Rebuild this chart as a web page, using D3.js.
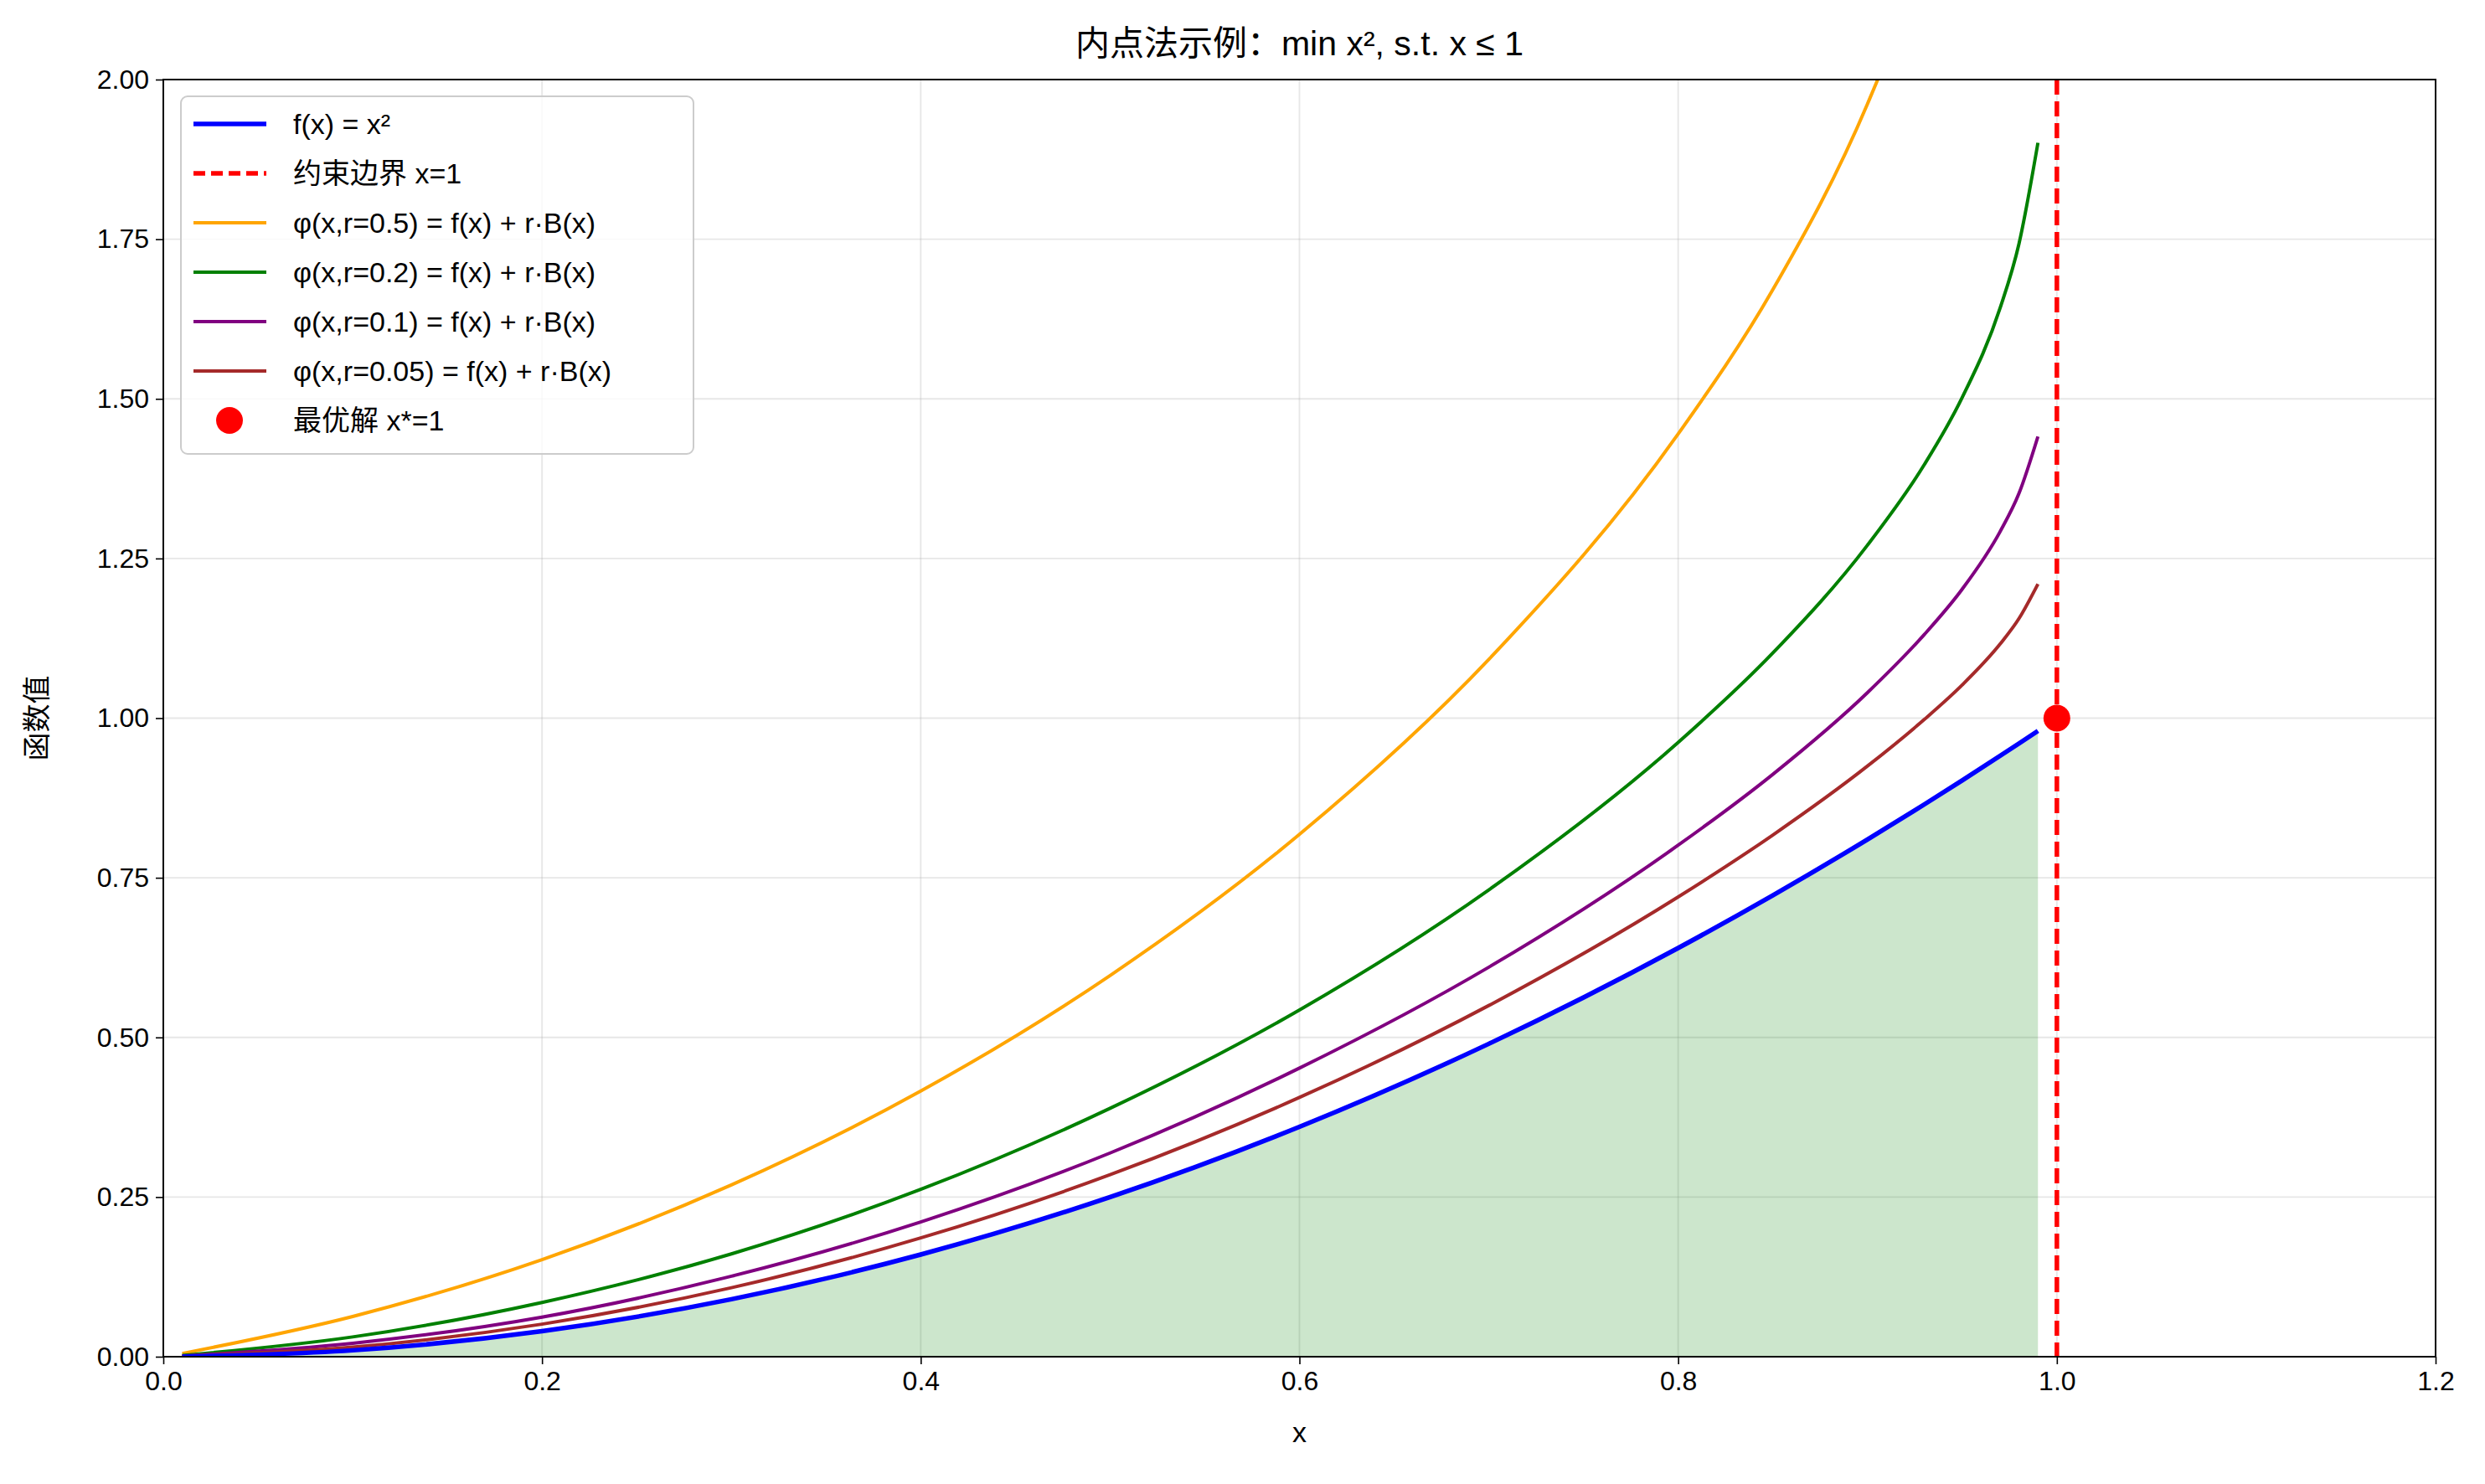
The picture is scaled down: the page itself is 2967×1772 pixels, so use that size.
<!DOCTYPE html>
<html><head><meta charset="utf-8">
<script src="https://cdn.jsdelivr.net/npm/d3@7"></script>
<style>body{margin:0;background:#fff}text{font-family:"Liberation Sans","Noto Sans CJK SC",sans-serif}</style>
</head><body><svg id="c" width="2967" height="1772"></svg>
<script>
// values
let xs = [0.01,0.1,0.2,0.3,0.4,0.5,0.6,0.7,0.8,0.85,0.9,0.93,0.95,0.97,0.98,0.99];
let fx = [0.0001,0.01,0.04,0.09,0.16,0.25,0.36,0.49,0.64,0.7225,0.81,0.8649,0.9025,0.9409,0.9604,0.9801];
let phi05 = [0.005,0.063,0.152,0.269,0.416,0.597,0.818,1.092,1.445,1.671,1.962,2.194,2.4,2.7,2.92,3.28];
let phi02 = [0.002,0.031,0.085,0.161,0.262,0.389,0.543,0.731,0.962,1.102,1.271,1.397,1.502,1.642,1.743,1.901];
let phi01 = [0.001,0.021,0.062,0.126,0.211,0.319,0.452,0.610,0.801,0.912,1.040,1.131,1.202,1.292,1.352,1.441];
let phi005 = [0.001,0.015,0.051,0.108,0.186,0.285,0.406,0.550,0.720,0.817,0.925,0.998,1.052,1.116,1.156,1.210];
let xTicks = [0,0.2,0.4,0.6,0.8,1.0,1.2];
let yTicks = [0,0.25,0.5,0.75,1.0,1.25,1.5,1.75,2.0];

let svg = d3.select("#c");
let L = 195, R = 2908, T = 95, B = 1620;
let x = d3.scaleLinear().domain([0,1.2]).range([L,R]);
let y = d3.scaleLinear().domain([0,2]).range([B,T]);

svg.append("defs").append("clipPath").attr("id","clip")
  .append("rect").attr("x",L).attr("y",T).attr("width",R-L).attr("height",B-T);

// grid
svg.append("g").selectAll("line").data(xTicks).join("line")
  .attr("x1",d=>x(d)).attr("x2",d=>x(d)).attr("y1",T).attr("y2",B)
  .attr("stroke","#b0b0b0").attr("stroke-opacity",0.3).attr("stroke-width",1.9);
svg.append("g").selectAll("line").data(yTicks).join("line")
  .attr("x1",L).attr("x2",R).attr("y1",d=>y(d)).attr("y2",d=>y(d))
  .attr("stroke","#b0b0b0").attr("stroke-opacity",0.3).attr("stroke-width",1.9);

let g = svg.append("g").attr("clip-path","url(#clip)");
let pts = v => xs.map((d,i)=>[d,v[i]]);
let line = d3.line().x(d=>x(d[0])).y(d=>y(d[1])).curve(d3.curveMonotoneX);
let area = d3.area().x(d=>x(d[0])).y0(y(0)).y1(d=>y(d[1])).curve(d3.curveMonotoneX);

g.append("path").attr("d",area(pts(fx))).attr("fill","green").attr("fill-opacity",0.2);

let series = [
  {v:phi05, c:"orange", w:4},
  {v:phi02, c:"green", w:4},
  {v:phi01, c:"purple", w:4},
  {v:phi005, c:"brown", w:4},
  {v:fx, c:"blue", w:5.5}
];
series.forEach(s => g.append("path").attr("d",line(pts(s.v))).attr("fill","none")
  .attr("stroke",s.c).attr("stroke-width",s.w));

g.append("line").attr("x1",x(1)).attr("x2",x(1)).attr("y1",T).attr("y2",B)
  .attr("stroke","red").attr("stroke-width",5.5).attr("stroke-dasharray","18,8");
svg.append("circle").attr("cx",x(1)).attr("cy",y(1)).attr("r",16).attr("fill","red");

// frame
svg.append("rect").attr("x",L).attr("y",T).attr("width",R-L).attr("height",B-T)
  .attr("fill","none").attr("stroke","#000").attr("stroke-width",2);

// axes
let xa = svg.append("g").attr("transform",`translate(0,${B})`)
  .call(d3.axisBottom(x).tickValues(xTicks).tickFormat(d3.format(".1f")).tickSize(9).tickPadding(8));
let ya = svg.append("g").attr("transform",`translate(${L},0)`)
  .call(d3.axisLeft(y).tickValues(yTicks).tickFormat(d3.format(".2f")).tickSize(9).tickPadding(8));
[xa,ya].forEach(a=>{a.select(".domain").remove();
  a.selectAll("line").attr("stroke","#000").attr("stroke-width",1.6);
  a.selectAll("text").attr("font-size",32).attr("fill","#000")
   .style("font-family","Liberation Sans, Noto Sans CJK SC");});

svg.append("text").attr("x",(L+R)/2).attr("y",1722).attr("text-anchor","middle")
  .attr("font-size",34).text("x");
svg.append("text").attr("transform",`translate(56,${(T+B)/2}) rotate(-90)`)
  .attr("text-anchor","middle").attr("font-size",34).text("函数值");
svg.append("text").attr("x",(L+R)/2).attr("y",66).attr("text-anchor","middle")
  .attr("font-size",41).text("内点法示例：min x², s.t. x ≤ 1");

// legend
let legend = [
  {t:"f(x) = x²", c:"blue", w:5.5},
  {t:"约束边界 x=1", c:"red", w:5.5, dash:"14,7"},
  {t:"φ(x,r=0.5) = f(x) + r·B(x)", c:"orange", w:4},
  {t:"φ(x,r=0.2) = f(x) + r·B(x)", c:"green", w:4},
  {t:"φ(x,r=0.1) = f(x) + r·B(x)", c:"purple", w:4},
  {t:"φ(x,r=0.05) = f(x) + r·B(x)", c:"brown", w:4},
  {t:"最优解 x*=1", c:"red", dot:true}
];
svg.append("rect").attr("x",216).attr("y",115).attr("width",612).attr("height",427)
  .attr("rx",8).attr("fill","#fff").attr("fill-opacity",0.8).attr("stroke","#ccc").attr("stroke-width",2);
let le = svg.append("g").selectAll("g").data(legend).join("g")
  .attr("transform",(d,i)=>`translate(0,${148+i*59})`);
le.filter(d=>!d.dot).append("line").attr("x1",231).attr("x2",318)
  .attr("stroke",d=>d.c).attr("stroke-width",d=>d.w).attr("stroke-dasharray",d=>d.dash||null);
le.filter(d=>d.dot).append("circle").attr("cx",274).attr("r",16).attr("fill","red");
le.append("text").attr("x",350).attr("dy","0.35em").attr("font-size",34).text(d=>d.t);
</script></body></html>
